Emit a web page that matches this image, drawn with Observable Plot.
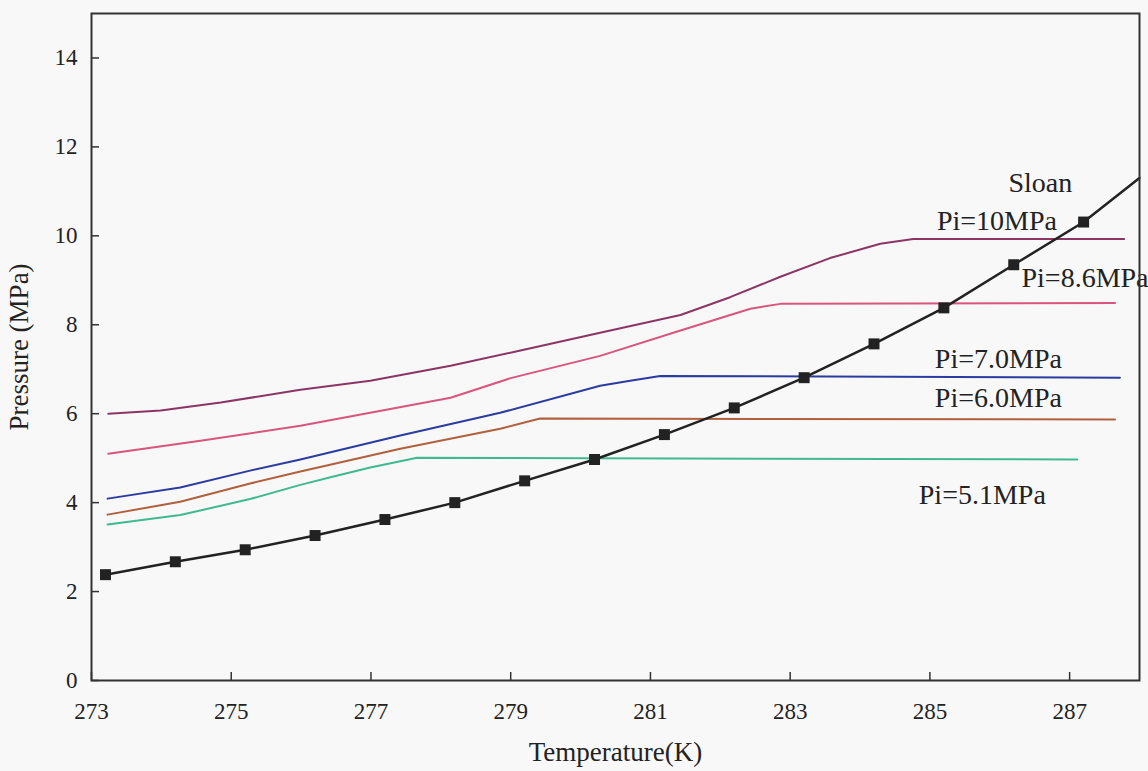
<!DOCTYPE html>
<html>
<head>
<meta charset="utf-8">
<script src="https://cdn.jsdelivr.net/npm/d3@7"></script>
<script src="https://cdn.jsdelivr.net/npm/@observablehq/plot@0.6"></script>
<style>
  html, body { margin: 0; padding: 0; background: #f8f8f8; }
  #chart { width: 1148px; height: 771px; }
</style>
</head>
<body>
<div id="chart"></div>
<script>
// ---- data ----
const xTicks = [273, 275, 277, 279, 281, 283, 285, 287];
const yTicks = [0, 2, 4, 6, 8, 10, 12, 14];

const sloanT = [273.2, 274.2, 275.2, 276.2, 277.2, 278.2, 279.2, 280.2, 281.2, 282.2, 283.2, 284.2, 285.2, 286.2, 287.2, 288.0];
const sloanP = [2.38, 2.67, 2.94, 3.26, 3.62, 4.00, 4.49, 4.97, 5.53, 6.13, 6.81, 7.57, 8.38, 9.35, 10.31, 11.30];
const sloanMarkerCount = 15;

const p10T = [273.24, 273.99, 274.85, 275.99, 276.99, 278.14, 279.14, 280.28, 281.43, 282.14, 282.86, 283.57, 284.29, 284.76, 287.78];
const p10P = [6.00, 6.07, 6.25, 6.54, 6.74, 7.08, 7.42, 7.82, 8.22, 8.62, 9.08, 9.50, 9.82, 9.93, 9.93];

const p86T = [273.24, 274.56, 275.99, 278.14, 279.00, 280.28, 281.43, 282.43, 282.86, 287.65];
const p86P = [5.10, 5.39, 5.73, 6.36, 6.80, 7.30, 7.87, 8.36, 8.47, 8.49];

const p70T = [273.23, 274.27, 275.27, 275.99, 277.42, 278.85, 280.28, 280.71, 281.14, 287.72];
const p70P = [4.09, 4.34, 4.72, 4.97, 5.51, 6.02, 6.63, 6.74, 6.85, 6.81];

const p60T = [273.23, 274.27, 275.27, 275.99, 277.42, 278.85, 279.42, 287.65];
const p60P = [3.73, 4.02, 4.43, 4.70, 5.21, 5.66, 5.89, 5.87];

const p51T = [273.23, 274.27, 275.27, 275.99, 276.42, 276.99, 277.66, 287.11];
const p51P = [3.51, 3.72, 4.08, 4.40, 4.57, 4.79, 5.01, 4.97];

const seriesNames  = ["Pi=10MPa", "Pi=8.6MPa", "Pi=7.0MPa", "Pi=6.0MPa", "Pi=5.1MPa"];
const seriesColors = ["#8c3565", "#d9557e", "#2b3ca0", "#b0603e", "#3fb990"];
const seriesT = [p10T, p86T, p70T, p60T, p51T];
const seriesP = [p10P, p86P, p70P, p60P, p51P];

const labelTexts = ["Sloan", "Pi=10MPa", "Pi=8.6MPa", "Pi=7.0MPa", "Pi=6.0MPa", "Pi=5.1MPa"];
const labelT = [286.58, 285.96, 287.22, 285.98, 285.98, 285.75];
const labelP = [11.19, 10.34, 9.06, 7.24, 6.36, 4.16];

// ---- build tables ----
const sloan = sloanT.map((t, i) => ({T: t, P: sloanP[i]}));
const sloanMarks = sloan.slice(0, sloanMarkerCount);
const labels = labelTexts.map((s, i) => ({text: s, T: labelT[i], P: labelP[i]}));

const W = 1148, H = 771;
const mL = 91, mR = 9, mT = 13, mB = 91;
const plotW = W - mL - mR, plotH = H - mT - mB;

const lineMarks = seriesNames.map((name, k) =>
  Plot.line(seriesT[k].map((t, i) => ({T: t, P: seriesP[k][i]})),
    {x: "T", y: "P", stroke: seriesColors[k], strokeWidth: 2})
);

const chart = Plot.plot({
  width: W, height: H,
  marginLeft: mL, marginRight: mR, marginTop: mT, marginBottom: mB,
  x: {domain: [273, 288]},
  y: {domain: [0, 15]},
  style: {fontFamily: "'Liberation Serif', 'Times New Roman', serif", fontSize: "23px", background: "transparent", color: "#222"},
  marks: [
    ...lineMarks,
    Plot.line(sloan, {x: "T", y: "P", stroke: "#222", strokeWidth: 2.5}),
    Plot.dot(sloanMarks, {x: "T", y: "P", symbol: "square", r: 6.2, fill: "#222", stroke: "none"}),
    Plot.text(labels, {x: "T", y: "P", text: "text", fontSize: 28, fill: "#222"}),
    Plot.ruleX(xTicks, {x: d => d, insetTop: plotH - 8, stroke: "#333", strokeWidth: 1.5}),
    Plot.ruleY(yTicks, {y: d => d, insetRight: plotW - 8, stroke: "#333", strokeWidth: 1.5}),
    Plot.axisX(xTicks, {tickSize: 0, tickPadding: 22, label: null, fontSize: 23, tickFormat: d => String(d)}),
    Plot.axisY(yTicks, {tickSize: 0, tickPadding: 14, label: null, fontSize: 23, tickFormat: d => String(d)}),
    Plot.text(["Temperature(K)"], {frameAnchor: "bottom", dy: 72, lineAnchor: "middle", textAnchor: "middle", text: d => d, fontSize: 27, fill: "#222"}),
    Plot.text(["Pressure (MPa)"], {frameAnchor: "left", dx: -72, rotate: -90, lineAnchor: "middle", textAnchor: "middle", text: d => d, fontSize: 27, fill: "#222"}),
    Plot.frame({stroke: "#333", strokeWidth: 2})
  ]
});
document.getElementById("chart").appendChild(chart);
</script>
</body>
</html>
